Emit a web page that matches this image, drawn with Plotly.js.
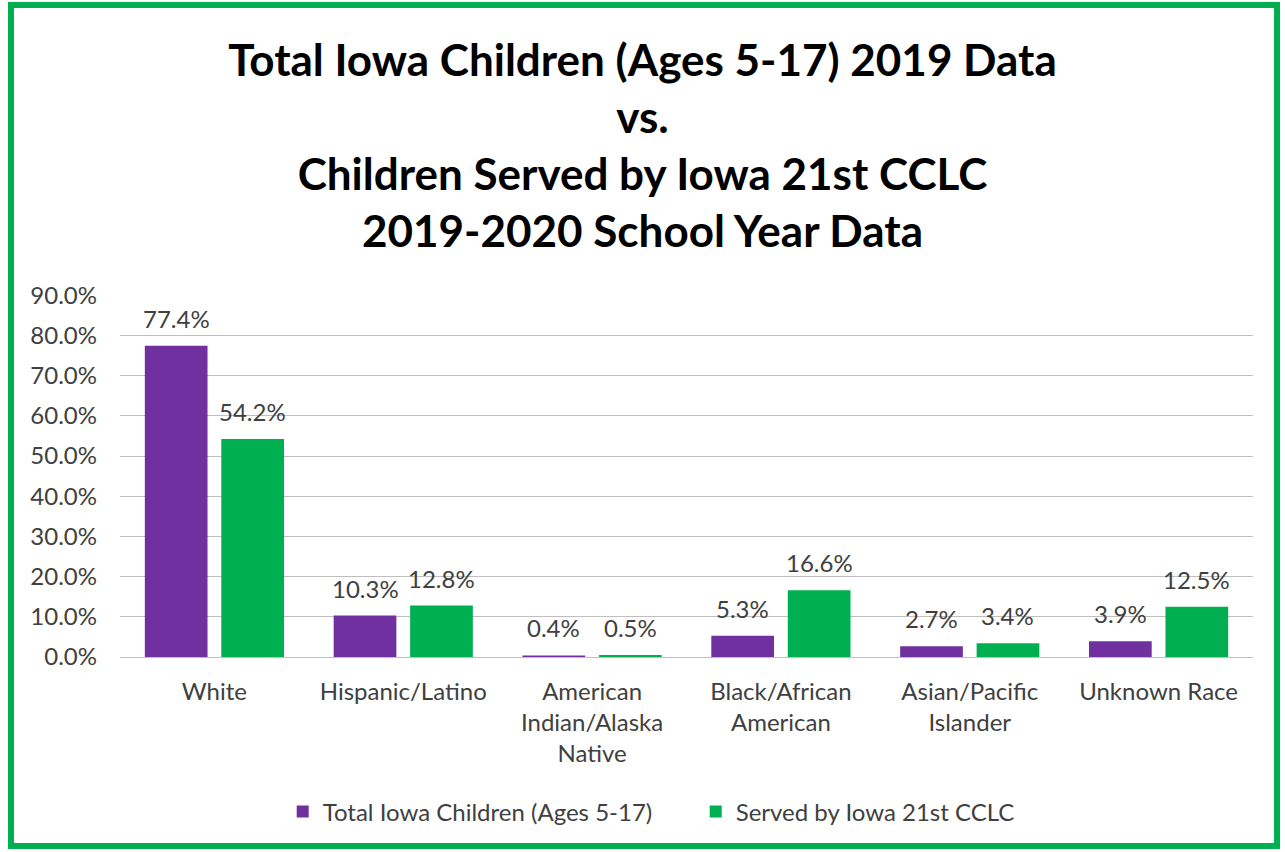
<!DOCTYPE html>
<html><head><meta charset="utf-8">
<script src="https://cdn.plot.ly/plotly-3.0.1.min.js"></script>
<style>
html,body{margin:0;padding:0;background:#fff;}
#chart{width:1285px;height:852px;}
#frame{position:absolute;left:8px;top:2px;width:1272px;height:847px;box-sizing:border-box;border:6px solid #00B050;pointer-events:none;}
</style></head>
<body>
<div id="chart"></div>
<div id="frame"></div>
<script>
const categories = ["White","Hispanic/Latino","American<br>Indian/Alaska<br>Native","Black/African<br>American","Asian/Pacific<br>Islander","Unknown Race"];
const totalIowa = [77.4,10.3,0.4,5.3,2.7,3.9];
const servedCCLC = [54.2,12.8,0.5,16.6,3.4,12.5];
const seriesNames = ["Total Iowa Children (Ages 5-17)","Served by Iowa 21st CCLC"];
const yTicks = [0,10,20,30,40,50,60,70,80,90];

const font = "Lato, 'Open Sans', sans-serif";
const txt = {family:font,size:24,color:"#404040"};
const W = 1285, ML = 120, MR = 32, BARGAP = 0.19;
const traces = [
  {type:"bar",x:categories,y:totalIowa,name:seriesNames[0],marker:{color:"#7030A0"}},
  {type:"bar",x:categories,y:servedCCLC,name:seriesNames[1],marker:{color:"#00B050"}}
];
const slotHalf = (W-ML-MR)/categories.length*(1-BARGAP)/4;
const annotations = [];
[totalIowa, servedCCLC].forEach((vals, si) => {
  vals.forEach((v, i) => {
    annotations.push({x:categories[i], y:v, xref:"x", yref:"y", text:v.toFixed(1)+"%",
      showarrow:false, yanchor:"bottom", xshift:(si===0?-1:1)*slotHalf, yshift:11, font:txt});
  });
});
const layout = {
  width:W,height:852,
  paper_bgcolor:"#fff",plot_bgcolor:"#fff",
  margin:{l:ML,r:MR,t:295,b:195},
  barmode:"group",bargap:BARGAP,bargroupgap:0.18,
  title:{text:"<b>Total Iowa Children (Ages 5-17) 2019 Data<br>vs.<br>Children Served by Iowa 21st CCLC<br>2019-2020 School Year Data</b>",
    font:{family:font,size:44,color:"#000"},x:0.5,xanchor:"center",yref:"container",y:0.911,yanchor:"top"},
  xaxis:{tickfont:txt,showline:false,ticks:"",automargin:false,ticklabelstandoff:18},
  yaxis:{range:[0,90.05],tickvals:yTicks,ticktext:yTicks.map(v=>v.toFixed(1)+"%"),tickfont:txt,
    gridcolor:"#BFBFBF",gridwidth:1,zeroline:true,zerolinecolor:"#BFBFBF",zerolinewidth:1,
    showline:false,ticks:"",ticklabelstandoff:22,automargin:false},
  annotations:annotations,
  showlegend:true,
  legend:{orientation:"h",x:0.22,xanchor:"left",xref:"container",y:0.047,yref:"container",yanchor:"middle",
    font:{family:font,size:24,color:"#404040"},itemwidth:30,traceorder:"normal",
    entrywidth:368,entrywidthmode:"pixels"},
};
Plotly.newPlot("chart",traces,layout,{displayModeBar:false,staticPlot:true});
</script>
</body></html>
